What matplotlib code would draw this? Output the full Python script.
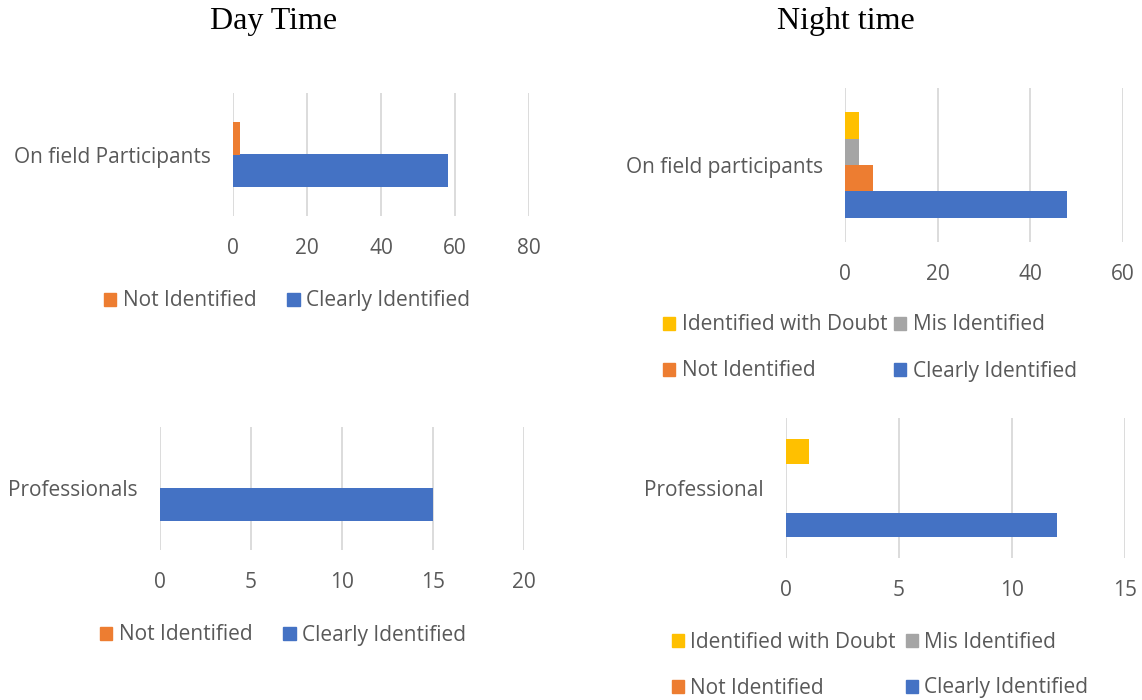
import matplotlib
matplotlib.use("Agg")
import matplotlib.pyplot as plt
from matplotlib.patches import Patch

W, H = 1142, 700

# ---- data ----
series_day = ["Clearly Identified", "Not Identified"]
series_night = ["Clearly Identified", "Not Identified", "Mis Identified", "Identified with Doubt"]
colors = {"Clearly Identified": "#4472C4", "Not Identified": "#ED7D31",
          "Mis Identified": "#A5A5A5", "Identified with Doubt": "#FFC000"}

day_field_cat = "On field Participants"
day_field_vals = [58, 2]
day_prof_cat = "Professionals"
day_prof_vals = [15, 0]
night_field_cat = "On field participants"
night_field_vals = [48, 6, 3, 3]
night_prof_cat = "Professional"
night_prof_vals = [12, 0, 0, 1]

day_field_ticks = [0, 20, 40, 60, 80]
day_prof_ticks = [0, 5, 10, 15, 20]
night_field_ticks = [0, 20, 40, 60]
night_prof_ticks = [0, 5, 10, 15]

TXT = "#595959"
SANS = "Open Sans"
FS = 15

fig = plt.figure(figsize=(W / 100, H / 100), dpi=100)


def px_axes(x0, x1, y0, y1):
    return fig.add_axes([x0 / W, 1 - y1 / H, (x1 - x0) / W, (y1 - y0) / H])


def panel(ax, cat, series, vals, ticks, bar_h):
    n = len(series)
    for i, (s, v) in enumerate(zip(series, vals)):
        off = (i - (n - 1) / 2) * bar_h
        ax.barh(0 + off, v, height=bar_h, color=colors[s], zorder=3)
    ax.set_ylim(-0.5, 0.5)
    ax.set_xlim(ticks[0], ticks[-1])
    ax.set_xticks(ticks)
    ax.set_yticks([0])
    ax.set_yticklabels([cat])
    for sp in ax.spines.values():
        sp.set_visible(False)
    ax.grid(axis="x", color="#D9D9D9", lw=1.3, zorder=0)
    ax.tick_params(length=0, labelsize=FS, labelcolor=TXT)
    ax.tick_params(axis="x", pad=16)
    ax.tick_params(axis="y", pad=16)
    for t in ax.get_xticklabels() + ax.get_yticklabels():
        t.set_fontfamily(SANS)


ax1 = px_axes(233, 529, 93, 216)
panel(ax1, day_field_cat, series_day, day_field_vals, day_field_ticks, 0.268)
ax2 = px_axes(160, 524, 427, 550)
panel(ax2, day_prof_cat, series_day, day_prof_vals, day_prof_ticks, 0.268)
ax3 = px_axes(845, 1123, 88, 242)
panel(ax3, night_field_cat, series_night, night_field_vals, night_field_ticks, 0.172)
ax4 = px_axes(786, 1125, 418, 558)
panel(ax4, night_prof_cat, series_night, night_prof_vals, night_prof_ticks, 0.175)

fig.text(274 / W, 1 - 22 / H, "Day Time", family="Liberation Serif", fontsize=23,
         ha="center", va="center", color="black")
fig.text(846 / W, 1 - 22 / H, "Night time", family="Liberation Serif", fontsize=23,
         ha="center", va="center", color="black")


def legend(order, cx, cy, ncol, colspace):
    handles = [Patch(color=colors[s]) for s in order]
    lg = fig.legend(handles, order, loc="center", bbox_to_anchor=(cx / W, 1 - cy / H),
                    ncol=ncol, frameon=False, handlelength=0.58, handleheight=0.58,
                    handletextpad=0.3, columnspacing=colspace, labelspacing=1.2,
                    prop={"family": SANS, "size": FS})
    for t in lg.get_texts():
        t.set_color(TXT)


legend(["Not Identified", "Clearly Identified"], 287, 301, 2, 1.5)
legend(["Not Identified", "Clearly Identified"], 283, 635, 2, 1.5)
legend(["Identified with Doubt", "Not Identified", "Mis Identified", "Clearly Identified"],
       870, 348, 2, 0.35)
legend(["Identified with Doubt", "Not Identified", "Mis Identified", "Clearly Identified"],
       880, 665, 2, 0.5)

fig.savefig("out.png", dpi=100)
